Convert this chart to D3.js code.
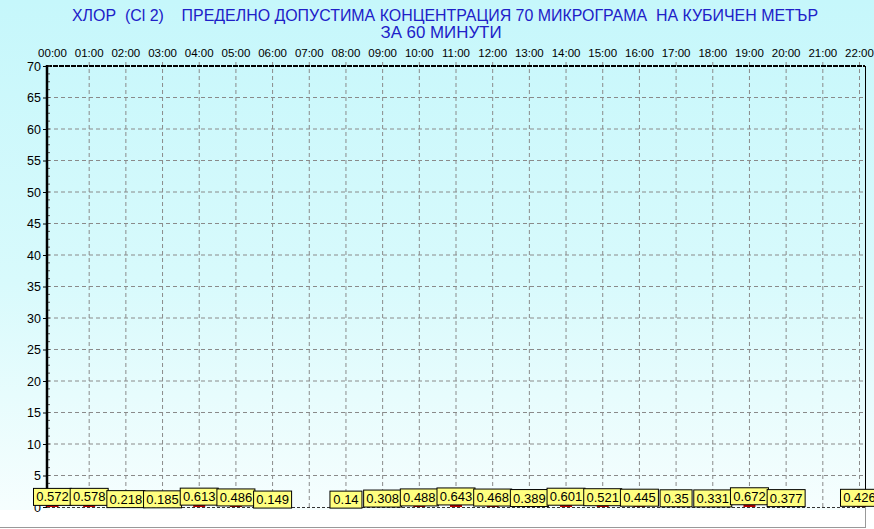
<!DOCTYPE html>
<html>
<head>
<meta charset="utf-8">
<script src="https://cdn.jsdelivr.net/npm/d3@7"></script>
<style>
  body { margin: 0; background: #fff; }
  svg { display: block; }
</style>
</head>
<body>
<script>
// hourly chlorine values (hours 7 and 21 have no data)
var hours = [0, 1, 2, 3, 4, 5, 6, 8, 9, 10, 11, 12, 13, 14, 15, 16, 17, 18, 19, 20, 22];
var values = [0.572, 0.578, 0.218, 0.185, 0.613, 0.486, 0.149, 0.14, 0.308, 0.488, 0.643,
              0.468, 0.389, 0.601, 0.521, 0.445, 0.35, 0.331, 0.672, 0.377, 0.426];
var labels = ["0.572", "0.578", "0.218", "0.185", "0.613", "0.486", "0.149", "0.14", "0.308",
              "0.488", "0.643", "0.468", "0.389", "0.601", "0.521", "0.445", "0.35", "0.331",
              "0.672", "0.377", "0.426"];
var hourTicks = d3.range(0, 23);
var yTicks = d3.range(0, 71, 5);
var title1 = "ХЛОР  (Cl 2)    ПРЕДЕЛНО ДОПУСТИМА КОНЦЕНТРАЦИЯ 70 МИКРОГРАМА  НА КУБИЧЕН МЕТЪР";
var title2 = "ЗА 60 МИНУТИ";

(function(){

var width = 874, height = 529;
var pLeft = 47, pRight = 865, pTop = 66, pBottom = 507;

var svg = d3.select("body").append("svg")
    .attr("width", width)
    .attr("height", height);

var grad = svg.append("defs").append("linearGradient")
    .attr("id", "bg")
    .attr("x1", 0).attr("y1", 0).attr("x2", 0).attr("y2", 1);
grad.append("stop").attr("offset", "0%").attr("stop-color", "#c6f7fb");
grad.append("stop").attr("offset", "55%").attr("stop-color", "#d8fafc");
grad.append("stop").attr("offset", "100%").attr("stop-color", "#f6fefe");

svg.append("rect")
    .attr("x", 0).attr("y", 0)
    .attr("width", width).attr("height", 510)
    .attr("fill", "url(#bg)");

var x = d3.scaleLinear().domain([-0.15, 22.15]).range([pLeft, pRight]);
var y = d3.scaleLinear().domain([0, 70]).range([pBottom, pTop]);

//titles
svg.append("text")
    .attr("x", 445).attr("y", 21)
    .attr("text-anchor", "middle")
    .attr("textLength", 746)
    .attr("lengthAdjust", "spacingAndGlyphs")
    .style("font-family", "'Liberation Sans Narrow', 'Arial Narrow', Arial, sans-serif")
    .style("font-size", "16px")
    .style("fill", "#2020c8")
    .style("white-space", "pre")
    .text(title1);
svg.append("text")
    .attr("x", 441).attr("y", 38)
    .attr("text-anchor", "middle")
    .attr("textLength", 121)
    .attr("lengthAdjust", "spacingAndGlyphs")
    .style("font-family", "'Liberation Sans Narrow', 'Arial Narrow', Arial, sans-serif")
    .style("font-size", "16px")
    .style("fill", "#2020c8")
    .text(title2);

//grid
svg.selectAll(".vgrid")
    .data(hourTicks.slice(1))
    .enter().append("line")
    .attr("class", "vgrid")
    .attr("x1", function(d){ return x(d); })
    .attr("x2", function(d){ return x(d); })
    .attr("y1", pTop - 4).attr("y2", pBottom)
    .attr("stroke", "#8a8a8a")
    .attr("stroke-dasharray", "4,3");

svg.selectAll(".hgrid")
    .data(yTicks.slice(1, -1))
    .enter().append("line")
    .attr("class", "hgrid")
    .attr("x1", pLeft).attr("x2", pRight)
    .attr("y1", function(d){ return y(d); })
    .attr("y2", function(d){ return y(d); })
    .attr("stroke", "#8a8a8a")
    .attr("stroke-dasharray", "4,3");

//frame
svg.append("line")
    .attr("x1", pLeft).attr("x2", pRight).attr("y1", pTop).attr("y2", pTop)
    .attr("stroke", "#000").attr("stroke-width", 2).attr("stroke-dasharray", "5,1");
svg.append("line")
    .attr("x1", pLeft).attr("x2", pRight).attr("y1", pBottom + 0.5).attr("y2", pBottom + 0.5)
    .attr("stroke", "#333").attr("stroke-dasharray", "3,2");
svg.append("line")
    .attr("x1", pRight + 0.5).attr("x2", pRight + 0.5).attr("y1", pTop).attr("y2", pBottom)
    .attr("stroke", "#000");
svg.append("line")
    .attr("x1", pRight + 0.5).attr("x2", pRight + 0.5).attr("y1", pBottom).attr("y2", 527)
    .attr("stroke", "#999");
svg.append("line")
    .attr("x1", 0).attr("x2", pRight + 1).attr("y1", 527.5).attr("y2", 527.5)
    .attr("stroke", "#999");

//top hour labels
svg.selectAll(".hlab")
    .data(hourTicks)
    .enter().append("text")
    .attr("class", "hlab")
    .attr("x", function(d){ return x(d); })
    .attr("y", 57)
    .attr("text-anchor", "middle")
    .style("font-family", "Arial, 'Liberation Sans', sans-serif")
    .style("font-size", "11.5px")
    .text(function(d){ return (d < 10 ? "0" : "") + d + ":00"; });

//y axis
var yAxis = d3.axisLeft(y).tickValues(yTicks).tickSize(4).tickPadding(2);
var gy = svg.append("g")
    .attr("transform", "translate(" + pLeft + ",0)")
    .call(yAxis);
gy.select(".domain").remove();
gy.selectAll("text")
    .style("font-family", "Arial, 'Liberation Sans', sans-serif")
    .style("font-size", "12.5px")
    .attr("fill", "#000");

svg.selectAll(".minor")
    .data(d3.range(0, 71, 1.25))
    .enter().append("line")
    .attr("class", "minor")
    .attr("x1", pLeft).attr("x2", pLeft + 3)
    .attr("y1", function(d){ return y(d); })
    .attr("y2", function(d){ return y(d); })
    .attr("stroke", "#555");

svg.append("line")
    .attr("x1", pLeft).attr("x2", pLeft).attr("y1", pTop - 1).attr("y2", pBottom)
    .attr("stroke", "#000").attr("stroke-width", 2.5);

//bars
svg.selectAll(".bar")
    .data(values)
    .enter().append("rect")
    .attr("class", "bar")
    .attr("x", function(d, i){ return x(hours[i]) - 6; })
    .attr("width", 12)
    .attr("y", function(d){ return y(d); })
    .attr("height", function(d){ return pBottom - y(d); })
    .attr("fill", "#b80000");

//value labels
var lab = svg.selectAll(".vlab")
    .data(values)
    .enter().append("g")
    .attr("class", "vlab")
    .attr("transform", function(d, i){
        return "translate(" + x(hours[i]) + "," + (y(d) - 15) + ")";
    });
lab.append("rect")
    .attr("x", function(d, i){ return labels[i].length > 4 ? -19 : -16; })
    .attr("width", function(d, i){ return labels[i].length > 4 ? 38 : 32; })
    .attr("y", 0).attr("height", 17)
    .attr("fill", "#ffff80")
    .attr("stroke", "#000");
lab.append("text")
    .attr("x", 0).attr("y", 13)
    .attr("text-anchor", "middle")
    .style("font-family", "Arial, 'Liberation Sans', sans-serif")
    .style("font-size", "13px")
    .text(function(d, i){ return labels[i]; });

})();
</script>
</body>
</html>
